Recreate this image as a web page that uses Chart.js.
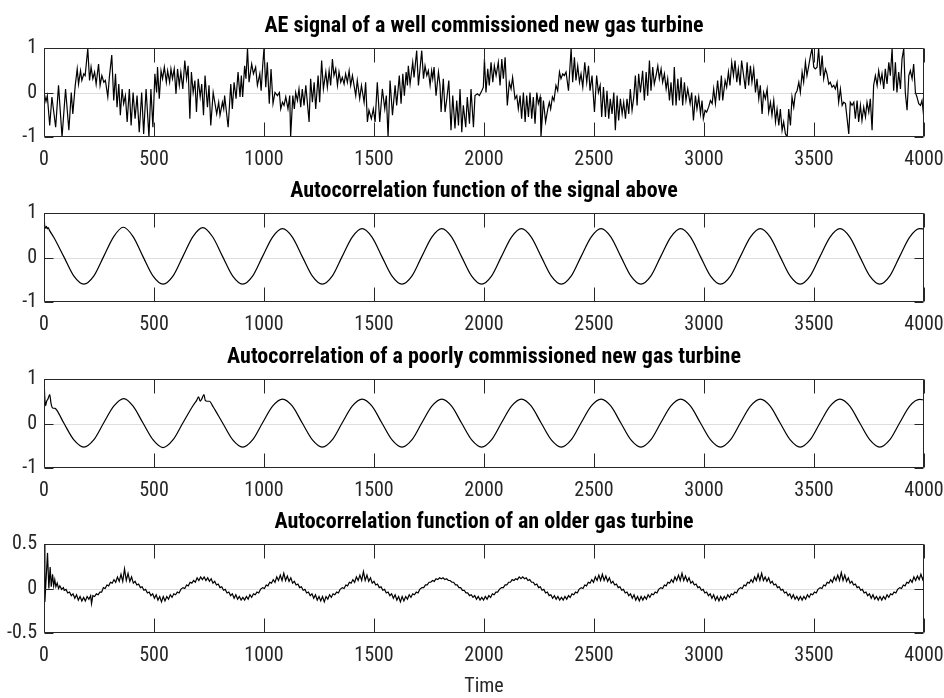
<!DOCTYPE html>
<html>
<head>
<meta charset="utf-8">
<title>Gas turbine AE signals</title>
<script src="https://cdn.jsdelivr.net/npm/chart.js@4.4.1/dist/chart.umd.min.js"></script>
<style>
  html, body { margin: 0; padding: 0; background: #fff; }
  #figure { position: relative; width: 944px; height: 698px; overflow: hidden; }
  #figure canvas { position: absolute; left: 0; }
</style>
</head>
<body>
<div id="figure">
  <canvas id="plot1" width="944" height="167" style="top:6px"></canvas>
  <canvas id="plot2" width="944" height="167" style="top:171px"></canvas>
  <canvas id="plot3" width="944" height="167" style="top:337px"></canvas>
  <canvas id="plot4" width="944" height="195" style="top:502px"></canvas>
</div>
<script>
// [time, amplitude] samples of the raw AE signal
const aeSignal = [
  [0,0],[9,-0.2],[15,-0.07],[26,-0.74],[36,-0.1],[53,-0.78],[66,0.16],[82,-1],[98,0.08],[113,-0.85],
  [124,0],[131,-0.48],[142,0.16],[151,0.53],[157,0.19],[166,0.49],[172,0.27],[181,0.42],[187,0.38],[193,0.68],
  [199,0.99],[207,0.27],[214,0.57],[222,0.31],[230,0.46],[237,0.19],[248,0.64],[255,0.16],[263,0.38],[272,0.23],
  [279,0.27],[290,-0.1],[297,0.34],[308,0.84],[317,-0.18],[325,0.42],[332,-0.33],[340,0.19],[347,-0.51],[355,0.08],
  [362,-0.25],[370,-0.07],[378,-0.66],[388,0.08],[396,-0.74],[405,0],[414,-0.59],[423,-0.07],[433,-0.89],[444,0],
  [453,-0.93],[464,0.08],[477,-1],[486,0.08],[495,-0.78],[504,0.42],[512,0],[516,0.57],[524,-0.14],[532,0.49],
  [539,0.31],[547,0.57],[556,0.23],[562,0.49],[571,0.23],[577,0.53],[584,0.31],[592,0.53],[600,-0.03],[607,0.53],
  [615,0.16],[622,0.46],[631,0.08],[640,0.72],[648,0.31],[655,0.6],[663,-0.59],[670,0.46],[678,0],[686,0.27],
  [693,-0.44],[701,0.31],[710,-0.1],[717,0.19],[725,-0.51],[732,0.38],[743,-0.33],[750,0.16],[758,-0.74],[769,0],
  [785,-0.48],[794,-0.22],[800,-0.51],[811,-0.22],[817,-0.37],[821,-0.07],[837,-0.78],[849,0.19],[856,-0.37],[864,0.23],
  [873,-0.14],[882,0.46],[891,-0.1],[897,0.38],[903,-0.1],[912,0.6],[918,0.31],[925,0.99],[932,0.23],[944,0.64],
  [952,0.42],[962,0.57],[970,0.16],[981,0.42],[987,0.04],[994,0.6],[1000,0.99],[1008,0.12],[1015,0.68],[1024,-0.25],
  [1032,0.53],[1041,-0.25],[1050,0],[1061,-0.07],[1070,0],[1076,-0.37],[1084,-0.22],[1091,-0.29],[1099,-0.1],[1109,-0.37],
  [1117,-0.07],[1121,-1],[1131,-0.07],[1138,-0.37],[1144,0],[1152,-0.18],[1159,0.08],[1167,-0.33],[1174,0.08],[1182,-0.29],
  [1190,0.16],[1205,-0.66],[1212,0.31],[1220,-0.22],[1228,0.23],[1235,-0.37],[1246,0.38],[1253,-0.22],[1262,0.72],[1270,0.08],
  [1281,0.46],[1288,0.12],[1296,0.49],[1303,0.16],[1311,0.75],[1318,0.38],[1326,0.53],[1334,0.16],[1341,0.46],[1349,0.23],
  [1356,0.34],[1364,0.19],[1371,0.42],[1379,0.23],[1387,0.49],[1394,0.16],[1402,0.38],[1417,-0.07],[1424,0.27],[1435,-0.14],
  [1443,0.16],[1455,-0.22],[1462,0.23],[1470,-0.66],[1477,-0.4],[1488,-0.59],[1497,-0.37],[1505,-0.66],[1515,0.23],[1526,-0.66],
  [1538,0.08],[1549,-0.37],[1556,-0.07],[1564,-1],[1573,0.27],[1584,-0.51],[1596,0.16],[1603,-0.29],[1615,0.38],[1623,-0.25],
  [1631,0.42],[1638,-0.07],[1646,0.46],[1652,0.16],[1656,0.6],[1664,0.19],[1676,0.68],[1682,0.34],[1694,0.94],[1702,0.16],
  [1717,0.94],[1725,0.31],[1732,0.6],[1740,0.38],[1747,0.49],[1755,0.16],[1762,0.49],[1767,0.31],[1773,0.57],[1782,-0.07],
  [1793,0.46],[1800,0.16],[1805,-0.44],[1815,0.31],[1823,-0.44],[1831,-0.14],[1840,0.27],[1850,-0.85],[1858,-0.07],[1868,-0.81],
  [1876,-0.18],[1884,-0.74],[1891,0.08],[1899,-0.89],[1906,-0.29],[1917,-0.78],[1924,-0.1],[1934,-0.7],[1941,0.08],[1952,-0.78],
  [1959,-0.07],[1970,-0.03],[1979,-0.07],[1990,0.04],[1997,0.12],[2002,0.75],[2009,0],[2017,0.53],[2024,0.16],[2032,0.68],
  [2040,0.23],[2047,0.6],[2055,0.38],[2065,0.68],[2073,0.16],[2081,0.75],[2088,0.31],[2096,0.79],[2106,-0.29],[2115,0.23],
  [2123,0.08],[2130,0.34],[2141,-0.14],[2149,-0.07],[2156,-0.37],[2164,-0.07],[2171,-0.59],[2179,0],[2187,-0.66],[2194,-0.07],
  [2202,-0.55],[2209,0],[2217,-0.59],[2224,-0.1],[2232,-0.7],[2240,0],[2247,-0.25],[2255,-0.1],[2259,-1],[2270,-0.18],
  [2280,-0.66],[2290,-0.37],[2297,-0.22],[2303,-0.37],[2311,-0.1],[2318,-0.18],[2327,0.16],[2335,0.04],[2343,0.46],[2350,0.31],
  [2358,0.42],[2365,0.38],[2373,0.46],[2384,0.04],[2396,0.99],[2403,0.23],[2411,0.79],[2418,0.27],[2426,0.6],[2434,0.23],
  [2441,0.42],[2449,0.12],[2458,0.68],[2467,0.23],[2475,0.6],[2482,0.04],[2491,0.38],[2502,-0.44],[2512,0.38],[2520,0],
  [2528,0.16],[2535,-0.55],[2543,0.12],[2552,-0.55],[2559,0.04],[2567,-0.59],[2574,-0.14],[2582,-0.48],[2590,0],[2597,-0.85],
  [2605,-0.07],[2612,-0.63],[2620,-0.14],[2628,-0.48],[2635,-0.22],[2643,-0.59],[2650,-0.14],[2658,-0.48],[2665,0.08],[2673,-0.4],
  [2681,-0.1],[2688,0.38],[2696,-0.29],[2703,0.42],[2711,0],[2721,0.49],[2729,-0.18],[2737,0.46],[2744,-0.07],[2752,0.72],
  [2759,0.04],[2767,0.57],[2774,0.19],[2782,0.38],[2790,0.6],[2797,0.31],[2805,0.53],[2812,0.23],[2820,0.42],[2828,0.08],
  [2835,0.31],[2843,-0.18],[2850,0.23],[2858,-0.29],[2865,0.57],[2873,-0.29],[2881,0.31],[2888,-0.18],[2896,0.34],[2903,-0.29],
  [2911,0.23],[2918,-0.18],[2926,0.08],[2937,-0.25],[2944,0],[2952,-0.63],[2961,-0.07],[2968,-0.37],[2976,-0.1],[2984,-0.48],
  [2991,-0.18],[2997,-0.59],[3005,-0.4],[3012,-0.44],[3021,-0.33],[3029,-0.18],[3037,-0.25],[3044,0.08],[3052,-0.25],[3062,0.27],
  [3070,-0.18],[3079,0.38],[3085,-0.18],[3096,0.27],[3103,0.12],[3111,0.46],[3118,0.16],[3126,0.68],[3134,0.38],[3141,0.72],
  [3149,0.23],[3156,0.53],[3164,0.16],[3171,0.72],[3188,0.08],[3196,0.68],[3203,0.16],[3211,0.6],[3218,0.23],[3226,0.53],
  [3234,0],[3241,0.31],[3249,-0.14],[3256,0.16],[3264,-0.48],[3271,0],[3279,-0.14],[3287,0.08],[3294,-0.44],[3302,-0.22],
  [3309,-0.51],[3317,-0.18],[3325,-0.66],[3332,-0.37],[3340,-0.74],[3347,-0.37],[3355,-0.85],[3362,-0.66],[3370,-0.93],[3378,-1],
  [3385,-0.37],[3393,-0.74],[3400,-0.1],[3408,-0.33],[3415,-0.03],[3423,0.04],[3431,0.23],[3438,0],[3446,0.46],[3453,0.23],
  [3461,0.68],[3468,0.38],[3476,0.6],[3484,0.83],[3491,0.99],[3499,0.57],[3506,0.53],[3514,0.57],[3521,0.99],[3529,0.38],
  [3537,0.83],[3544,0.31],[3552,0.53],[3559,0.42],[3567,0.19],[3574,0.23],[3582,0.12],[3590,0.16],[3597,0.08],[3605,0.23],
  [3612,-0.22],[3620,0.08],[3628,-0.29],[3635,-0.22],[3643,-0.25],[3658,-0.93],[3665,-0.22],[3673,-0.29],[3681,-0.22],[3688,-0.59],
  [3696,-0.18],[3703,-0.66],[3711,-0.29],[3718,-0.63],[3726,-0.33],[3734,-0.55],[3741,-0.22],[3749,-0.44],[3756,-0.14],[3764,-0.85],
  [3771,0.16],[3779,0.38],[3787,0.16],[3794,0.49],[3802,0.23],[3809,0.42],[3817,0.08],[3824,0.53],[3832,0.19],[3840,0.68],
  [3847,0.38],[3855,0.99],[3862,0.04],[3870,0.68],[3877,0],[3885,0.46],[3893,0.08],[3900,0.75],[3908,0.99],[3915,0],
  [3923,-0.4],[3931,0.38],[3938,0.49],[3946,0.31],[3953,0.64],[3961,0],[3968,-0.1],[3976,-0.25],[3984,-0.29],[3991,-0.18],
  [3999,-0.55]
];

// [lag, r] autocorrelation of the signal above
const acfWell = [
  [0,1],[3,0.72],[7,0.66],[11,0.7],[15,0.64],[19,0.67],[25,0.61],[45,0.45],[90,0.02],[136,-0.42],[181,-0.6],[226,-0.42],[271,0.02],[317,0.47],
  [360,0.68],[405,0.47],[450,0.02],[496,-0.42],[541,-0.6],[586,-0.42],[631,0.02],[677,0.47],
  [722,0.67],[767,0.46],[812,0.02],[858,-0.42],[903,-0.6],[948,-0.42],[993,0.02],[1039,0.46],
  [1084,0.65],[1129,0.46],[1174,0.02],[1220,-0.42],[1265,-0.6],[1310,-0.42],[1355,0.02],[1401,0.46],
  [1446,0.65],[1491,0.46],[1536,0.02],[1582,-0.42],[1627,-0.6],[1672,-0.42],[1717,0.02],[1763,0.46],
  [1808,0.65],[1853,0.46],[1898,0.02],[1944,-0.42],[1989,-0.6],[2034,-0.42],[2079,0.02],[2125,0.46],
  [2170,0.65],[2215,0.46],[2260,0.02],[2306,-0.42],[2351,-0.6],[2396,-0.42],[2441,0.02],[2487,0.46],
  [2532,0.65],[2577,0.46],[2622,0.02],[2668,-0.42],[2713,-0.6],[2758,-0.42],[2803,0.02],[2849,0.46],
  [2894,0.65],[2939,0.46],[2984,0.02],[3030,-0.42],[3075,-0.6],[3120,-0.42],[3165,0.02],[3211,0.46],
  [3256,0.65],[3301,0.46],[3346,0.02],[3392,-0.42],[3437,-0.6],[3482,-0.42],[3527,0.02],[3573,0.46],
  [3618,0.65],[3663,0.46],[3708,0.02],[3754,-0.42],[3799,-0.6],[3844,-0.42],[3889,0.02],[3935,0.46],
  [3980,0.65],[4000,0.64]
];

// poorly commissioned machine
const acfPoor = [
  [0,1],[4,0.55],[7,0.4],[12,0.5],[18,0.55],[26,0.65],[32,0.45],[39,0.35],[50,0.34],[58,0.3],[90,0.01],[136,-0.37],[181,-0.53],[226,-0.37],[271,0.01],[317,0.39],
  [363,0.56],[405,0.39],[450,0.01],[496,-0.37],[541,-0.54],[586,-0.37],[631,0.01],[677,0.4],
  [694,0.52],[703,0.6],[710,0.5],[718,0.56],[727,0.65],[733,0.52],[741,0.5],[752,0.5],[767,0.39],[812,0.01],[858,-0.37],[903,-0.53],[948,-0.37],[993,0.01],[1039,0.39],
  [1084,0.55],[1129,0.39],[1174,0.01],[1220,-0.37],[1265,-0.53],[1310,-0.37],[1355,0.01],[1401,0.39],
  [1446,0.55],[1491,0.39],[1536,0.01],[1582,-0.37],[1627,-0.53],[1672,-0.37],[1717,0.01],[1763,0.39],
  [1808,0.55],[1853,0.39],[1898,0.01],[1944,-0.37],[1989,-0.53],[2034,-0.37],[2079,0.01],[2125,0.39],
  [2170,0.55],[2215,0.39],[2260,0.01],[2306,-0.37],[2351,-0.53],[2396,-0.37],[2441,0.01],[2487,0.39],
  [2532,0.55],[2577,0.39],[2622,0.01],[2668,-0.37],[2713,-0.53],[2758,-0.37],[2803,0.01],[2849,0.39],
  [2894,0.55],[2939,0.39],[2984,0.01],[3030,-0.37],[3075,-0.53],[3120,-0.37],[3165,0.01],[3211,0.39],
  [3256,0.55],[3301,0.39],[3346,0.01],[3392,-0.37],[3437,-0.53],[3482,-0.37],[3527,0.01],[3573,0.39],
  [3618,0.55],[3663,0.39],[3708,0.01],[3754,-0.37],[3799,-0.53],[3844,-0.37],[3889,0.01],[3935,0.39],
  [3980,0.54],[4000,0.53]
];

// older machine: weak periodicity with ripple riding on it
const acfOld = [
  [0,1],[4,-0.15],[16,0.4],[22,0],[28,0.24],[33,0.02],[39,0.16],[44,0.03],[49,0.1],[54,0.02],[60,0.06],[66,0],[72,0.03],[80,-0.01],[88,0.01],
  [92,-0.02],[100,-0.01],[108,-0.05],[116,-0.04],[124,-0.08],[132,-0.06],[140,-0.11],[148,-0.07],[156,-0.13],[164,-0.09],[172,-0.14],[180,-0.1],
  [188,-0.14],[196,-0.09],[204,-0.12],[212,-0.08],[216,-0.17],[222,-0.08],[230,-0.09],[238,-0.06],[246,-0.07],[254,-0.04],[262,-0.04],

  [270,0.01],[278,0],[286,0.04],[294,0.03],[302,0.07],[310,0.06],[318,0.1],[326,0.07],[334,0.13],[342,0.08],[350,0.16],[358,0.08],[366,0.22],
  [374,0.09],[382,0.17],[390,0.08],[398,0.13],[406,0.06],[414,0.08],[422,0.04],[430,0.05],[438,0.01],[446,0.02],[454,-0.02],[462,-0.01],[470,-0.05],
  [478,-0.04],[486,-0.08],[494,-0.06],[502,-0.11],[510,-0.07],[518,-0.13],[526,-0.09],[534,-0.15],[542,-0.09],[550,-0.14],[558,-0.09],[566,-0.12],
  [574,-0.07],[582,-0.1],[590,-0.06],[598,-0.07],[606,-0.04],[614,-0.05],[622,-0.01],

  [632,0.01],[640,0],[648,0.04],[656,0.03],[664,0.07],[672,0.06],[680,0.09],[688,0.07],[696,0.12],[704,0.09],[712,0.13],[720,0.1],[728,0.13],
  [736,0.09],[744,0.12],[752,0.08],[760,0.11],[768,0.06],[776,0.08],[784,0.04],[792,0.05],[800,0.01],[808,0.02],[816,-0.02],[824,-0.01],[832,-0.05],
  [840,-0.04],[848,-0.08],[856,-0.06],[864,-0.11],[872,-0.07],[880,-0.12],[888,-0.09],[896,-0.13],[904,-0.1],[912,-0.13],[920,-0.09],[928,-0.12],
  [936,-0.07],[944,-0.1],[952,-0.06],[960,-0.07],[968,-0.04],[976,-0.05],[984,-0.01],

  [994,0.01],[1002,0],[1010,0.04],[1018,0.03],[1026,0.07],[1034,0.06],[1042,0.1],[1050,0.07],[1058,0.13],[1066,0.09],[1074,0.15],[1082,0.09],[1090,0.17],
  [1098,0.09],[1106,0.14],[1114,0.08],[1122,0.12],[1130,0.06],[1138,0.08],[1146,0.04],[1154,0.05],[1162,0.01],[1170,0.02],[1178,-0.02],[1186,-0.01],[1194,-0.05],
  [1202,-0.04],[1210,-0.08],[1218,-0.06],[1226,-0.11],[1234,-0.07],[1242,-0.13],[1250,-0.09],[1258,-0.14],[1266,-0.09],[1274,-0.15],[1282,-0.09],[1290,-0.12],
  [1298,-0.07],[1306,-0.1],[1314,-0.06],[1322,-0.07],[1330,-0.04],[1338,-0.05],[1346,-0.01],

  [1356,0.01],[1364,0],[1372,0.04],[1380,0.03],[1388,0.07],[1396,0.06],[1404,0.1],[1412,0.07],[1420,0.13],[1428,0.09],[1436,0.15],[1444,0.09],[1452,0.19],
  [1460,0.09],[1468,0.15],[1476,0.08],[1484,0.12],[1492,0.06],[1500,0.08],[1508,0.04],[1516,0.05],[1524,0.01],[1532,0.02],[1540,-0.02],[1548,-0.01],[1556,-0.05],
  [1564,-0.04],[1572,-0.08],[1580,-0.06],[1588,-0.11],[1596,-0.07],[1604,-0.13],[1612,-0.09],[1620,-0.15],[1628,-0.09],[1636,-0.14],[1644,-0.09],[1652,-0.12],
  [1660,-0.07],[1668,-0.1],[1676,-0.06],[1684,-0.07],[1692,-0.04],[1700,-0.05],[1708,-0.01],

  [1718,0.01],[1726,0.01],[1734,0.04],[1742,0.04],[1750,0.07],[1758,0.07],[1766,0.09],[1774,0.08],[1782,0.11],[1790,0.1],[1798,0.12],[1806,0.11],[1814,0.12],
  [1822,0.1],[1830,0.11],[1838,0.09],[1846,0.09],[1854,0.07],[1862,0.07],[1870,0.04],[1878,0.04],[1886,0.01],[1894,0.01],[1902,-0.02],[1910,-0.02],[1918,-0.05],
  [1926,-0.05],[1934,-0.08],[1942,-0.07],[1950,-0.1],[1958,-0.08],[1966,-0.12],[1974,-0.09],[1982,-0.13],[1990,-0.1],[1998,-0.13],[2006,-0.09],[2014,-0.12],
  [2022,-0.08],[2030,-0.1],[2038,-0.06],[2046,-0.07],[2054,-0.04],[2062,-0.04],[2070,-0.01],

  [2080,0.01],[2088,0.01],[2096,0.04],[2104,0.04],[2112,0.07],[2120,0.07],[2128,0.1],[2136,0.09],[2144,0.11],[2152,0.1],[2160,0.13],[2168,0.11],[2176,0.13],
  [2184,0.11],[2192,0.12],[2200,0.09],[2208,0.1],[2216,0.07],[2224,0.07],[2232,0.04],[2240,0.05],[2248,0.01],[2256,0.02],[2264,-0.02],[2272,-0.01],[2280,-0.05],
  [2288,-0.04],[2296,-0.08],[2304,-0.07],[2312,-0.11],[2320,-0.08],[2328,-0.12],[2336,-0.09],[2344,-0.13],[2352,-0.1],[2360,-0.13],[2368,-0.09],[2376,-0.12],
  [2384,-0.08],[2392,-0.1],[2400,-0.06],[2408,-0.07],[2416,-0.04],[2424,-0.05],[2432,-0.01],

  [2442,0.01],[2450,0],[2458,0.04],[2466,0.03],[2474,0.07],[2482,0.06],[2490,0.1],[2498,0.07],[2506,0.13],[2514,0.09],[2522,0.15],[2530,0.09],[2538,0.16],
  [2546,0.09],[2554,0.14],[2562,0.08],[2570,0.12],[2578,0.06],[2586,0.08],[2594,0.04],[2602,0.05],[2610,0.01],[2618,0.02],[2626,-0.02],[2634,-0.01],[2642,-0.05],
  [2650,-0.04],[2658,-0.08],[2666,-0.06],[2674,-0.11],[2682,-0.07],[2690,-0.13],[2698,-0.09],[2706,-0.14],[2714,-0.09],[2722,-0.13],[2730,-0.09],[2738,-0.12],
  [2746,-0.07],[2754,-0.1],[2762,-0.06],[2770,-0.07],[2778,-0.04],[2786,-0.05],[2794,-0.01],

  [2804,0.01],[2812,0],[2820,0.04],[2828,0.03],[2836,0.07],[2844,0.06],[2852,0.1],[2860,0.07],[2868,0.13],[2876,0.09],[2884,0.15],[2892,0.09],[2900,0.17],
  [2908,0.09],[2916,0.14],[2924,0.08],[2932,0.12],[2940,0.06],[2948,0.08],[2956,0.04],[2964,0.05],[2972,0.01],[2980,0.02],[2988,-0.02],[2996,-0.01],[3004,-0.05],
  [3012,-0.04],[3020,-0.08],[3028,-0.06],[3036,-0.11],[3044,-0.07],[3052,-0.13],[3060,-0.09],[3068,-0.14],[3076,-0.09],[3084,-0.13],[3092,-0.09],[3100,-0.12],
  [3108,-0.07],[3116,-0.1],[3124,-0.06],[3132,-0.07],[3140,-0.04],[3148,-0.05],[3156,-0.01],

  [3166,0.01],[3174,0],[3182,0.04],[3190,0.03],[3198,0.07],[3206,0.06],[3214,0.1],[3222,0.07],[3230,0.13],[3238,0.09],[3246,0.16],[3254,0.09],[3262,0.17],
  [3270,0.09],[3278,0.13],[3286,0.08],[3294,0.12],[3302,0.06],[3310,0.08],[3318,0.04],[3326,0.05],[3334,0.01],[3342,0.02],[3350,-0.02],[3358,-0.01],[3366,-0.05],
  [3374,-0.04],[3382,-0.08],[3390,-0.06],[3398,-0.11],[3406,-0.07],[3414,-0.12],[3422,-0.09],[3430,-0.13],[3438,-0.09],[3446,-0.13],[3454,-0.09],[3462,-0.12],
  [3470,-0.07],[3478,-0.1],[3486,-0.06],[3494,-0.07],[3502,-0.04],[3510,-0.05],[3518,-0.01],

  [3528,0.01],[3536,0],[3544,0.04],[3552,0.03],[3560,0.07],[3568,0.06],[3576,0.1],[3584,0.07],[3592,0.13],[3600,0.09],[3608,0.15],[3616,0.09],[3624,0.18],
  [3632,0.09],[3640,0.15],[3648,0.08],[3656,0.12],[3664,0.06],[3672,0.08],[3680,0.04],[3688,0.05],[3696,0.01],[3704,0.02],[3712,-0.02],[3720,-0.01],[3728,-0.05],
  [3736,-0.04],[3744,-0.08],[3752,-0.06],[3760,-0.11],[3768,-0.07],[3776,-0.12],[3784,-0.09],[3792,-0.13],[3800,-0.09],[3808,-0.13],[3816,-0.09],[3824,-0.12],
  [3832,-0.07],[3840,-0.1],[3848,-0.06],[3856,-0.07],[3864,-0.04],[3872,-0.05],[3880,-0.01],

  [3890,0.01],[3898,0],[3906,0.04],[3914,0.03],[3922,0.07],[3930,0.06],[3938,0.1],[3946,0.07],[3954,0.13],[3962,0.09],[3970,0.14],[3978,0.1],[3986,0.16],
  [3994,0.1],[4000,0.15]
];

const titles = [
  'AE signal of a well commissioned new gas turbine',
  'Autocorrelation function of the signal above',
  'Autocorrelation of a poorly commissioned new gas turbine',
  'Autocorrelation function of an older gas turbine'
];
const xTicks = [0, 500, 1000, 1500, 2000, 2500, 3000, 3500, 4000];
const yTicksUnit = [-1, 0, 1];
const yTicksHalf = [-0.5, 0, 0.5];

const FONT = '"Roboto Condensed", "Open Sans Condensed", sans-serif';
const INK = '#262626';

// matlab-ish axes: full box, inward ticks, faint zero line
const axesBox = {
  id: 'axesBox',
  beforeDatasetsDraw(chart) {
    const { ctx, chartArea: a, scales: { y } } = chart;
    const y0 = Math.round(y.getPixelForValue(0)) + 0.5;
    ctx.save();
    ctx.strokeStyle = '#dedede';
    ctx.lineWidth = 1;
    ctx.beginPath();
    ctx.moveTo(a.left, y0);
    ctx.lineTo(a.right, y0);
    ctx.stroke();
    ctx.restore();
  },
  afterDatasetsDraw(chart) {
    const { ctx, chartArea: a, scales: { x, y } } = chart;
    const L = Math.round(a.left) + 0.5, R = Math.round(a.right) - 0.5;
    const T = Math.round(a.top) + 0.5, B = Math.round(a.bottom) - 0.5;
    ctx.save();
    ctx.strokeStyle = INK;
    ctx.lineWidth = 1;
    ctx.beginPath();
    ctx.rect(L, T, R - L, B - T);
    x.ticks.forEach(t => {
      const px = Math.round(x.getPixelForValue(t.value)) + 0.5;
      ctx.moveTo(px, T); ctx.lineTo(px, T + 14);
      ctx.moveTo(px, B); ctx.lineTo(px, B - 14);
    });
    y.ticks.forEach(t => {
      const py = Math.round(y.getPixelForValue(t.value)) + 0.5;
      ctx.moveTo(L, py); ctx.lineTo(L + 9, py);
      ctx.moveTo(R, py); ctx.lineTo(R - 9, py);
    });
    ctx.stroke();
    ctx.restore();
  }
};

function drawPanel(id, title, series, yTicks, opts = {}) {
  const points = series.map(([t, v]) => ({ x: t, y: v }));
  new Chart(document.getElementById(id), {
    type: 'line',
    data: {
      datasets: [{
        data: points,
        borderColor: '#000',
        borderWidth: 1.2,
        pointRadius: 0,
        tension: opts.smooth ? 0.4 : 0,
        cubicInterpolationMode: opts.smooth ? 'monotone' : 'default'
      }]
    },
    options: {
      responsive: false,
      animation: false,
      events: [],
      devicePixelRatio: 1,
      layout: { padding: { left: 0, right: 20, top: 0, bottom: 0 } },
      plugins: {
        legend: { display: false },
        tooltip: { enabled: false },
        title: {
          display: true,
          fullSize: false,
          text: title,
          color: '#000',
          font: { family: FONT, size: 22, weight: 'bold', lineHeight: 1 },
          padding: { top: 9.5, bottom: 10.5 }
        }
      },
      scales: {
        x: {
          type: 'linear',
          min: xTicks[0],
          max: xTicks[xTicks.length - 1],
          // fixed band under the plot; end labels may hang past the box
          afterFit: s => {
            s.height = opts.xHeight || 36;
            s.paddingLeft = 0;
            s.paddingRight = 0;
          },
          afterBuildTicks: s => { s.ticks = xTicks.map(v => ({ value: v })); },
          grid: { display: false, drawTicks: false },
          border: { display: false },
          ticks: {
            color: INK,
            font: { family: FONT, size: 20 },
            padding: 11,
            maxRotation: 0,
            autoSkip: false,
            callback: v => String(v)
          },
          title: opts.xTitle ? {
            display: true,
            text: opts.xTitle,
            color: INK,
            font: { family: FONT, size: 20, lineHeight: 1 },
            padding: { top: 0, bottom: 0 }
          } : { display: false }
        },
        y: {
          min: yTicks[0],
          max: yTicks[yTicks.length - 1],
          afterFit: s => {
            s.width = 44;
            s.paddingTop = 0;
            s.paddingBottom = 0;
          },
          afterBuildTicks: s => { s.ticks = yTicks.map(v => ({ value: v })); },
          grid: { display: false, drawTicks: false },
          border: { display: false },
          ticks: {
            color: INK,
            font: { family: FONT, size: 20 },
            padding: 7,
            callback: v => String(v)
          }
        }
      }
    },
    plugins: [axesBox]
  });
}

drawPanel('plot1', titles[0], aeSignal, yTicksUnit);
drawPanel('plot2', titles[1], acfWell, yTicksUnit, { smooth: true });
drawPanel('plot3', titles[2], acfPoor, yTicksUnit, { smooth: true });
drawPanel('plot4', titles[3], acfOld, yTicksHalf, { xTitle: 'Time', xHeight: 64 });
</script>
</body>
</html>
